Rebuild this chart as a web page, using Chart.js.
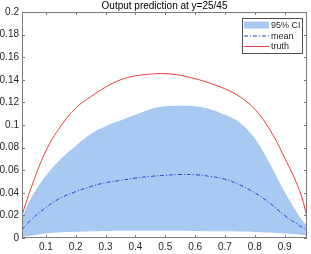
<!DOCTYPE html>
<html>
<head>
<meta charset="utf-8">
<script src="https://cdn.jsdelivr.net/npm/chart.js@4.4.1/dist/chart.umd.min.js"></script>
<style>
  html, body { margin: 0; padding: 0; background: #fff; }
  #wrap { width: 311px; height: 254px; }
</style>
</head>
<body>
<div id="wrap"><canvas id="chart-pred" width="311" height="254"></canvas></div>
<script>
const xs      = [0.02, 0.05, 0.1, 0.15, 0.2, 0.25, 0.3, 0.35, 0.4, 0.45, 0.5, 0.55, 0.6, 0.65, 0.7, 0.75, 0.8, 0.85, 0.9, 0.95, 0.975];
const truth   = [0.020, 0.044, 0.077, 0.099, 0.115, 0.125, 0.1335, 0.140, 0.1435, 0.145, 0.1455, 0.144, 0.141, 0.137, 0.132, 0.125, 0.114, 0.096, 0.071, 0.042, 0.019];
const mean    = [0.007, 0.016, 0.027, 0.0355, 0.041, 0.0455, 0.049, 0.051, 0.053, 0.0545, 0.0555, 0.0562, 0.056, 0.0545, 0.052, 0.047, 0.040, 0.031, 0.020, 0.011, 0.007];
const ciUpper = [0.018, 0.035, 0.055, 0.070, 0.0815, 0.092, 0.099, 0.104, 0.109, 0.114, 0.1165, 0.117, 0.1165, 0.114, 0.109, 0.102, 0.088, 0.066, 0.041, 0.019, 0.011];
const ciLower = [0.001, 0.002, 0.004, 0.005, 0.0055, 0.006, 0.0063, 0.0065, 0.0065, 0.0065, 0.0065, 0.0065, 0.0063, 0.006, 0.006, 0.0058, 0.0054, 0.0048, 0.004, 0.003, 0.002];
const xTicks  = [0.1, 0.2, 0.3, 0.4, 0.5, 0.6, 0.7, 0.8, 0.9];
const yTicks  = [0, 0.02, 0.04, 0.06, 0.08, 0.1, 0.12, 0.14, 0.16, 0.18, 0.2];
const titleText = 'Output prediction at y=25/45';

const pts = arr => arr.map((v, i) => ({ x: xs[i], y: v }));
const ciColor = 'rgb(168,201,242)';
const meanColor = 'rgb(40,60,220)';
const truthColor = 'rgb(236,62,62)';
const axisColor = '#7a7a7a';
const textColor = '#262626';
const fontFam = '"Liberation Sans", Arial, sans-serif';

// matlab-like box, inward ticks, title and legend
const boxPlugin = {
    id: 'box',
    afterDraw(chart) {
        const { ctx, chartArea: a, scales } = chart;
        ctx.save();
        ctx.strokeStyle = axisColor;
        ctx.lineWidth = 1;
        ctx.strokeRect(a.left + 0.5, a.top + 0.5, a.right - a.left - 1, a.bottom - a.top - 1);
        ctx.beginPath();
        xTicks.forEach(v => {
            const px = Math.round(scales.x.getPixelForValue(v)) + 0.5;
            ctx.moveTo(px, a.bottom); ctx.lineTo(px, a.bottom - 3);
            ctx.moveTo(px, a.top); ctx.lineTo(px, a.top + 3);
        });
        yTicks.forEach(v => {
            const py = Math.round(scales.y.getPixelForValue(v)) + 0.5;
            ctx.moveTo(a.left, py); ctx.lineTo(a.left + 3, py);
            ctx.moveTo(a.right, py); ctx.lineTo(a.right - 3, py);
        });
        ctx.stroke();

        ctx.fillStyle = '#000';
        ctx.font = '10px ' + fontFam;
        ctx.textAlign = 'center';
        ctx.textBaseline = 'middle';
        ctx.fillText(titleText, (a.left + a.right) / 2, 6);

        // legend
        const lx = 242, ly = 18, lw = 60, lh = 35;
        ctx.fillStyle = '#fff';
        ctx.fillRect(lx, ly, lw, lh);
        ctx.strokeStyle = '#4d4d4d';
        ctx.strokeRect(lx + 0.5, ly + 0.5, lw, lh);
        const items = chart.data.datasets.filter(d => d.legendLabel);
        ctx.font = '9px ' + fontFam;
        ctx.textAlign = 'left';
        items.forEach((d, i) => {
            const cy = ly + 7 + i * 10.5;
            if (d.legendLabel === '95% CI') {
                ctx.fillStyle = d.backgroundColor;
                ctx.fillRect(lx + 2, cy - 3.5, 25, 7);
            } else {
                ctx.strokeStyle = d.borderColor;
                ctx.lineWidth = 1;
                ctx.setLineDash(d.borderDash || []);
                ctx.beginPath();
                ctx.moveTo(lx + 2, cy + 0.5); ctx.lineTo(lx + 27, cy + 0.5);
                ctx.stroke();
                ctx.setLineDash([]);
            }
            ctx.fillStyle = textColor;
            ctx.fillText(d.legendLabel, lx + 29, cy + 1);
        });
        ctx.restore();
    },
};

new Chart(document.getElementById('chart-pred'), {
    type: 'line',
    data: {
        datasets: [
            {
                label: 'lower',
                data: pts(ciLower),
                borderWidth: 0,
                pointRadius: 0,
                fill: false,
                tension: 0.4,
                order: 4,
            },
            {
                label: '95% CI',
                legendLabel: '95% CI',
                data: pts(ciUpper),
                borderWidth: 0,
                pointRadius: 0,
                backgroundColor: ciColor,
                fill: '-1',
                tension: 0.4,
                order: 3,
            },
            {
                label: 'mean',
                legendLabel: 'mean',
                data: pts(mean),
                borderColor: meanColor,
                borderWidth: 1,
                borderDash: [4, 2, 1, 2],
                pointRadius: 0,
                fill: false,
                tension: 0.4,
                order: 1,
            },
            {
                label: 'truth',
                legendLabel: 'truth',
                data: pts(truth),
                borderColor: truthColor,
                borderWidth: 1,
                pointRadius: 0,
                fill: false,
                tension: 0.4,
                order: 0,
            },
        ],
    },
    options: {
        responsive: false,
        animation: false,
        layout: { padding: { top: 12, right: 4, left: 0, bottom: 0 } },
        plugins: {
            legend: { display: false },
            tooltip: { enabled: false },
            title: { display: false },
        },
        scales: {
            x: {
                type: 'linear',
                min: 0.02,
                max: 0.975,
                afterBuildTicks: s => { s.ticks = xTicks.map(v => ({ value: v })); },
                afterFit: s => { s.height = 16; },
                grid: { display: false, drawTicks: false },
                border: { display: false },
                ticks: {
                    color: textColor,
                    font: { size: 10, family: fontFam },
                    padding: 3,
                    maxRotation: 0,
                    callback: v => String(+v.toFixed(2)),
                },
            },
            y: {
                min: 0,
                max: 0.2,
                afterBuildTicks: s => { s.ticks = yTicks.map(v => ({ value: v })); },
                afterFit: s => { s.width = 22; },
                grid: { display: false, drawTicks: false },
                border: { display: false },
                ticks: {
                    color: textColor,
                    font: { size: 10, family: fontFam },
                    padding: 3,
                    callback: v => String(+v.toFixed(2)),
                },
            },
        },
    },
    plugins: [boxPlugin],
});
</script>
</body>
</html>
